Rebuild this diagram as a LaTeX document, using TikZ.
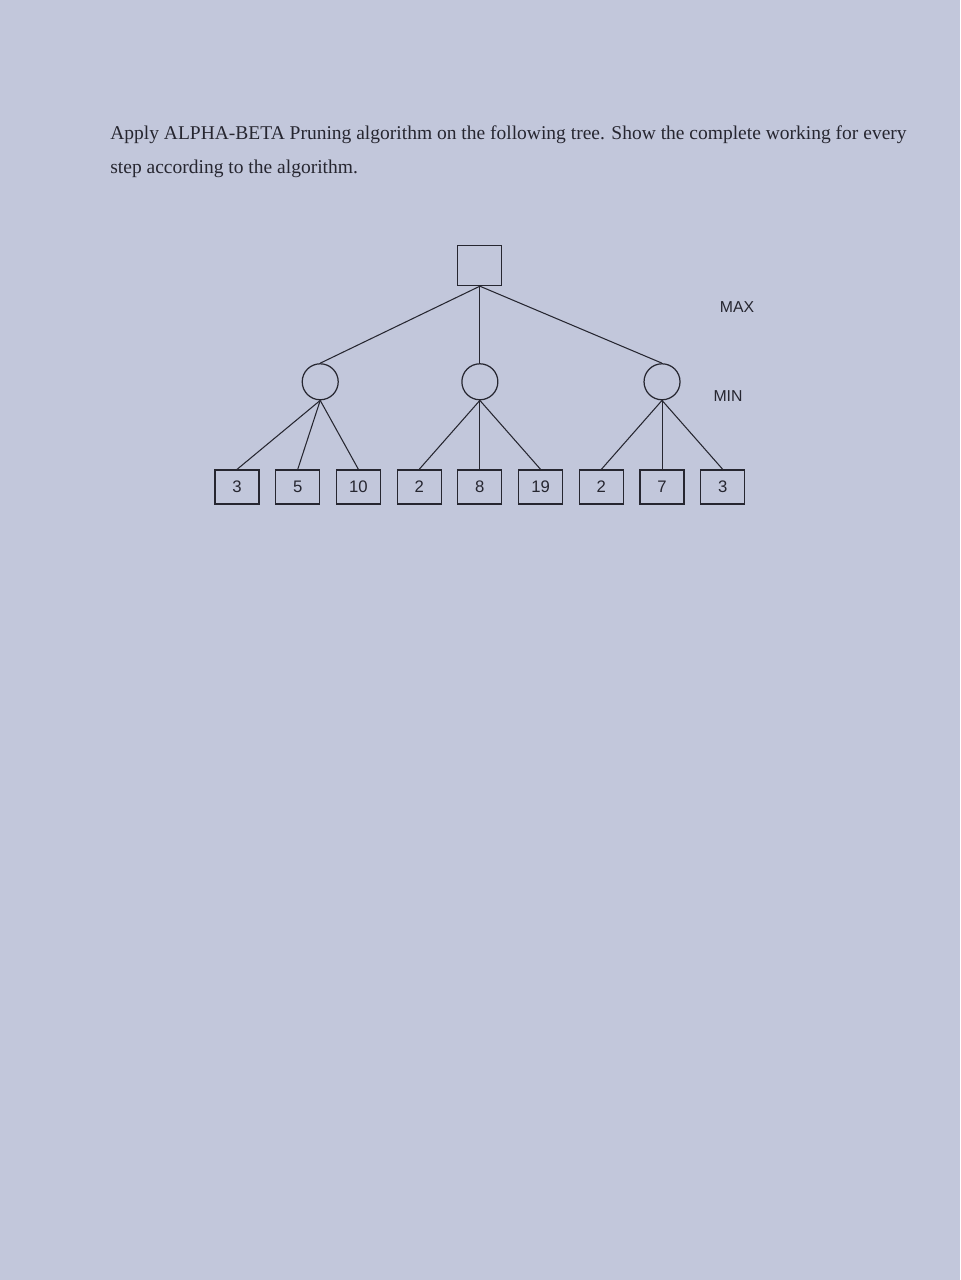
\documentclass[tikz,border=0pt]{standalone}
\usepackage{fontspec}
\setmainfont{Liberation Serif}
\setsansfont{Liberation Sans}
\usetikzlibrary{positioning}

\definecolor{paper}{RGB}{194,199,219}
\definecolor{ink}{RGB}{38,38,48}

\tikzset{
  maxbox/.style={draw=ink, line width=0.7pt, minimum width=0.88cm, minimum height=0.8cm},
  minnode/.style={draw=ink, line width=0.7pt, circle, minimum size=0.72cm, inner sep=0pt},
  leaf/.style={draw=ink, line width=0.7pt, minimum width=0.88cm, minimum height=0.68cm,
    font=\sffamily\fontsize{9.5}{11}\selectfont, text=ink},
  lvl/.style={font=\sffamily\fontsize{9}{10}\selectfont, text=ink},
  edge/.style={draw=ink, line width=0.6pt},
}

\begin{document}
\begin{tikzpicture}[x=0.02cm, y=-0.02cm]
    \fill[paper] (0,0) rectangle (960,1280);
    \useasboundingbox (0,0) rectangle (960,1280);

    % question
    \node[anchor=base west, inner sep=0pt, text=ink, font=\fontsize{11.1}{13}\selectfont] (q1) at (110,140)
      {Apply ALPHA-BETA Pruning algorithm on the following tree. Show the complete working for every};
    \node[anchor=base west, inner sep=0pt, text=ink, font=\fontsize{11.1}{13}\selectfont] (q2) at (110,174)
      {step according to the algorithm.};

    % leaves
    \node[leaf] (l1) at (237,487) {3};
    \node[leaf, right=0.31cm of l1] (l2) {5};
    \node[leaf, right=0.31cm of l2] (l3) {10};
    \node[leaf, right=0.31cm of l3] (l4) {2};
    \node[leaf, right=0.31cm of l4] (l5) {8};
    \node[leaf, right=0.31cm of l5] (l6) {19};
    \node[leaf, right=0.31cm of l6] (l7) {2};
    \node[leaf, right=0.31cm of l7] (l8) {7};
    \node[leaf, right=0.31cm of l8] (l9) {3};

    % min level
    \node[minnode, above=1.38cm of l2, xshift=0.45cm] (m1) {};
    \node[minnode, above=1.38cm of l5] (m2) {};
    \node[minnode, above=1.38cm of l8] (m3) {};

    % max level
    \node[maxbox, above=1.54cm of m2] (root) {};

    \node[lvl] (maxlbl) at (737,307) {MAX};
    \node[lvl] (minlbl) at (728,396) {MIN};

    \foreach \m in {m1,m2,m3}
      \draw[edge] (root.south) -- (\m.north);
    \foreach \l in {l1,l2,l3}
      \draw[edge] (m1.south) -- (\l.north);
    \foreach \l in {l4,l5,l6}
      \draw[edge] (m2.south) -- (\l.north);
    \foreach \l in {l7,l8,l9}
      \draw[edge] (m3.south) -- (\l.north);
\end{tikzpicture}
\end{document}
